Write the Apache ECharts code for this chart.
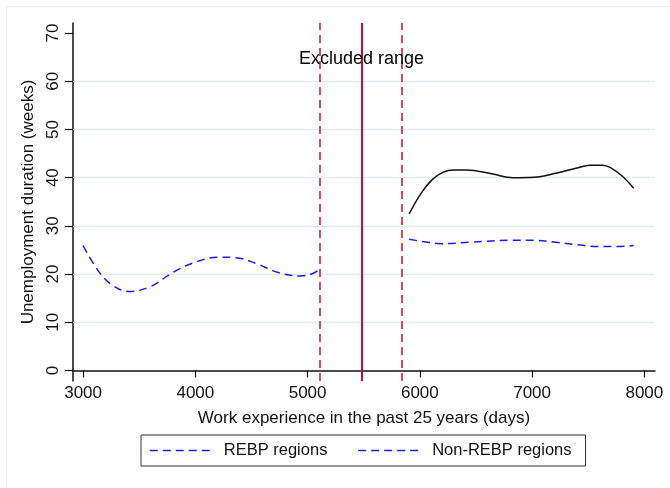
<!DOCTYPE html>
<html>
<head>
<meta charset="utf-8">
<script src="https://cdn.jsdelivr.net/npm/echarts@6/dist/echarts.min.js"></script>
<style>
  html, body { margin: 0; padding: 0; background: #fff; }
  #chart { width: 670px; height: 488px; }
</style>
</head>
<body>
<div id="chart"></div>
<script>
// values
const rebpLeft = [
  [3000, 25.9], [3140, 20.5], [3255, 17.8], [3405, 16.4], [3600, 17.4],
  [3790, 20.2], [3980, 22.3], [4210, 23.5], [4360, 23.4], [4550, 22.1],
  [4740, 20.3], [4930, 19.6], [5045, 20.1], [5110, 21.0]
];
const rebpRight = [
  [5905, 27.2], [6070, 26.6], [6185, 26.3], [6450, 26.6], [6830, 27.0],
  [7020, 27.0], [7210, 26.6], [7400, 26.1], [7595, 25.7], [7745, 25.7], [7905, 25.9]
];
const nonRebp = [
  [5905, 32.5], [6015, 36.9], [6110, 39.6], [6205, 41.1], [6300, 41.6],
  [6415, 41.6], [6640, 40.8], [6830, 40.0], [7020, 40.1], [7210, 40.9],
  [7400, 42.0], [7515, 42.6], [7630, 42.6], [7705, 42.0], [7800, 40.4], [7905, 37.8]
];
const cutoffDashed = [5110, 5840];
const cutoffSolid = [5480];
const xTicks = [3000, 4000, 5000, 6000, 7000, 8000];
const yTicks = [0, 10, 20, 30, 40, 50, 60, 70];
const yGrid = [10, 20, 30, 40, 50, 60];
const noteText = "Excluded range";
const notePos = [5480, 64.6];

const font = "'Liberation Sans', Arial, sans-serif";
const blue = "#1a1aff";
const red = "#cc0a3a";
const noSymbol = { color: "transparent", borderWidth: 0, opacity: 0 };
const legendLine = { color: blue, type: [8, 5], width: 1.5 };

const myChart = echarts.init(document.getElementById("chart"));

const options = {
  backgroundColor: "#fff",
  animation: false,
  textStyle: { fontFamily: font },
  graphic: [
    {
      type: "rect",
      shape: { x: 6.5, y: 6.5, width: 700, height: 500 },
      style: { fill: "none", stroke: "#eaf0f2", lineWidth: 1.5 },
      silent: true,
      z: 0,
    },
  ],
  grid: { left: 73, right: 15, top: 23, bottom: 107 },
  legend: {
    left: 141,
    top: 435,
    orient: "horizontal",
    borderColor: "#333",
    borderWidth: 1,
    padding: [7, 14, 7, 8],
    itemGap: 30,
    itemWidth: 63,
    itemHeight: 18,
    itemStyle: noSymbol,
    textStyle: { fontFamily: font, fontSize: 16.5, color: "#111", padding: [0, 0, 0, 6] },
    data: [
      { name: "REBP regions", itemStyle: noSymbol, lineStyle: legendLine },
      { name: "Non-REBP regions", itemStyle: noSymbol, lineStyle: legendLine },
    ],
  },
  xAxis: {
    type: "value",
    min: 2910,
    max: 8095,
    name: "Work experience in the past 25 years (days)",
    nameLocation: "middle",
    nameGap: 29,
    nameTextStyle: { fontFamily: font, fontSize: 17, color: "#111" },
    axisLine: { lineStyle: { color: "#111", width: 1.5 } },
    axisTick: { show: true, length: 7, customValues: xTicks, lineStyle: { color: "#111", width: 1.2 } },
    axisLabel: {
      customValues: xTicks,
      formatter: (v) => String(v),
      fontSize: 17,
      color: "#111",
      margin: 4,
      fontFamily: font,
    },
    splitLine: { show: false },
  },
  yAxis: {
    type: "value",
    min: -2.2,
    max: 72.1,
    name: "Unemployment duration (weeks)",
    nameLocation: "middle",
    nameGap: 30,
    nameRotate: 90,
    nameTextStyle: { fontFamily: font, fontSize: 17, color: "#111" },
    axisLine: { show: true, lineStyle: { color: "#111", width: 1.5 } },
    axisTick: { show: true, length: 8, customValues: yTicks, lineStyle: { color: "#111", width: 1.2 } },
    axisLabel: { customValues: yTicks, rotate: 90, fontSize: 17, color: "#111", margin: 11, fontFamily: font },
    splitLine: { show: false },
  },
  series: [
    {
      name: "REBP regions",
      type: "line",
      data: rebpLeft,
      smooth: 0.4,
      showSymbol: false,
      symbol: "none",
      lineStyle: { color: blue, width: 1.5, type: [8, 5] },
      itemStyle: { color: blue },
      z: 5,
      markLine: {
        silent: true,
        symbol: "none",
        label: { show: false },
        lineStyle: { color: "#e3ecef", width: 1.4, type: "solid" },
        data: yGrid.map((v) => ({ yAxis: v })),
        z: 1,
      },
    },
    {
      name: "REBP regions",
      type: "line",
      data: rebpRight,
      smooth: 0.4,
      showSymbol: false,
      symbol: "none",
      lineStyle: { color: blue, width: 1.5, type: [8, 5] },
      itemStyle: { color: blue },
      z: 5,
    },
    {
      name: "Non-REBP regions",
      type: "line",
      data: nonRebp,
      smooth: 0.4,
      showSymbol: false,
      symbol: "none",
      lineStyle: { color: "#111", width: 1.5, type: "solid" },
      itemStyle: { color: "#111" },
      z: 5,
      markLine: {
        silent: true,
        symbol: "none",
        label: { show: false },
        data: cutoffDashed
          .map((v) => ({ xAxis: v, lineStyle: { color: red, width: 1.5, type: [8, 5] } }))
          .concat(cutoffSolid.map((v) => ({ xAxis: v, lineStyle: { color: red, width: 2, type: "solid" } }))),
        z: 4,
      },
    },
    {
      name: "note",
      type: "scatter",
      data: [notePos],
      symbolSize: 0,
      silent: true,
      z: 6,
      itemStyle: { opacity: 1 },
      label: {
        show: true,
        position: "inside",
        formatter: noteText,
        fontFamily: font,
        fontSize: 18,
        color: "#000",
        opacity: 1,
        textBorderWidth: 0,
      },
    },
  ],
};

myChart.setOption(options);
</script>
</body>
</html>
